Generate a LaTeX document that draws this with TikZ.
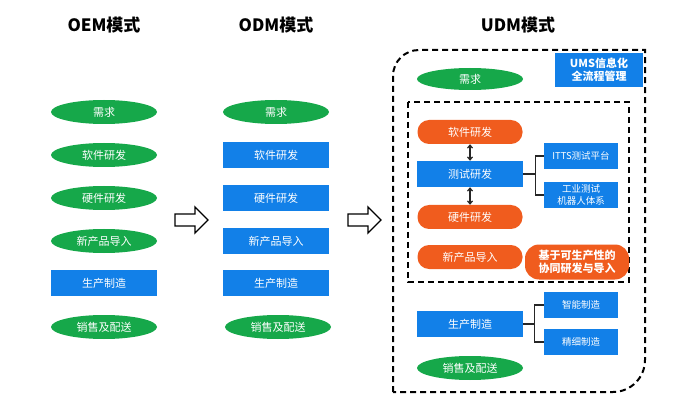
\documentclass[tikz,border=0pt]{standalone}
\usepackage{fontspec}
\setmainfont{Noto Sans CJK SC}
\usepackage{xcolor}
\usetikzlibrary{arrows.meta,shapes.geometric,positioning}
\definecolor{modegreen}{RGB}{22,168,74}
\definecolor{modeblue}{RGB}{18,128,232}
\definecolor{modeorange}{RGB}{240,92,30}

\begin{document}
\begin{tikzpicture}[x=1pt,y=-1pt,>={Straight Barb[length=3pt,width=5pt]},
  phase/.style={ellipse,fill=modegreen,text=white,minimum width=106pt,minimum height=24pt,inner sep=0pt,font=\fontsize{11}{13}\selectfont},
  work/.style={rectangle,fill=modeblue,text=white,minimum width=106pt,minimum height=26pt,inner sep=0pt,font=\fontsize{11}{13}\selectfont},
  pill/.style={rectangle,rounded corners=11.5pt,fill=modeorange,text=white,minimum width=105pt,minimum height=24pt,inner sep=0pt,font=\fontsize{11}{13}\selectfont},
  sub/.style={rectangle,fill=modeblue,text=white,minimum width=74pt,minimum height=26pt,inner sep=0pt,align=center,font=\fontsize{9.5}{11.5}\selectfont},
  title/.style={font=\fontsize{17}{20}\selectfont\bfseries},
  frame/.style={line width=2pt,dash pattern=on 6pt off 4pt},
  link/.style={line width=1.2pt,draw=black!85}]
\useasboundingbox (0,0) rectangle (678,401);
% OEM
\node[title] (toem) at (104,25) {OEM模式};
\node[phase] (oem1) at (104,112) {需求};
\node[phase] (oem2) at (104,155) {软件研发};
\node[phase] (oem3) at (104,198) {硬件研发};
\node[phase] (oem4) at (104,241) {新产品导入};
\node[work]  (oem5) at (104,283) {生产制造};
\node[phase] (oem6) at (104,327) {销售及配送};
% ODM
\node[title] (todm) at (276,25) {ODM模式};
\node[phase] (odm1) at (276,112) {需求};
\node[work]  (odm2) at (276,155) {软件研发};
\node[work]  (odm3) at (276,198) {硬件研发};
\node[work]  (odm4) at (276,241) {新产品导入};
\node[work]  (odm5) at (276,283) {生产制造};
\node[phase] (odm6) at (278,327) {销售及配送};
% hollow arrows
\foreach \ax in {175,348}
  \draw[line width=1.3pt,fill=white] (\ax,214) -- ++(20,0) -- ++(0,-7) -- ++(13,13) -- ++(-13,13) -- ++(0,-7) -- ++(-20,0) -- cycle;
% UDM
\node[title] (tudm) at (518,25) {UDM模式};
\draw[frame] (393,392) -- (393,76) .. controls (393,61.6) and (404.6,50) .. (419,50) -- (645,50)
  -- (645,360) .. controls (645,377.7) and (630.7,392) .. (613,392) -- cycle;
\draw[frame] (408,102) rectangle (629,282);
\node[rectangle,fill=modeblue,text=white,minimum width=88pt,minimum height=34pt,inner sep=0pt,align=center,
  font=\fontsize{11}{12.5}\selectfont\bfseries] (ums) at (599,70) {UMS信息化\\全流程管理};
\node[phase,minimum height=22pt] (udm1) at (470,79) {需求};
\node[pill] (soft) at (470,132) {软件研发};
\node[work] (test) at (470,174) {测试研发};
\node[pill] (hard) at (470,217) {硬件研发};
\node[sub]  (itts) at (581,156) {ITTS测试平台};
\node[sub]  (robot) at (581,195) {工业测试\\机器人体系};
\node[pill] (npi) at (470,257) {新产品导入};
\node[pill,minimum width=104pt,minimum height=35pt,rounded corners=14pt,align=center,
  font=\fontsize{11}{13.5}\selectfont\bfseries] (dfm) at (577,262) {基于可生产性的\\协同研发与导入};
\node[work] (make) at (470,324) {生产制造};
\node[sub]  (smart) at (581,305) {智能制造};
\node[sub]  (fine) at (581,342) {精细制造};
\node[phase] (udm6) at (470,368) {销售及配送};
% links
\draw[link,<->] (soft.south) -- (test.north);
\draw[link,<->] (test.south) -- (hard.north);
\draw[link] (test.east) -- ++(12,0) |- (itts.west);
\draw[link] (test.east) -- ++(12,0) |- (robot.west);
\draw[link] (make.east) -- ++(11,0) |- (smart.west);
\draw[link] (make.east) -- ++(11,0) |- (fine.west);
\end{tikzpicture}
\end{document}
